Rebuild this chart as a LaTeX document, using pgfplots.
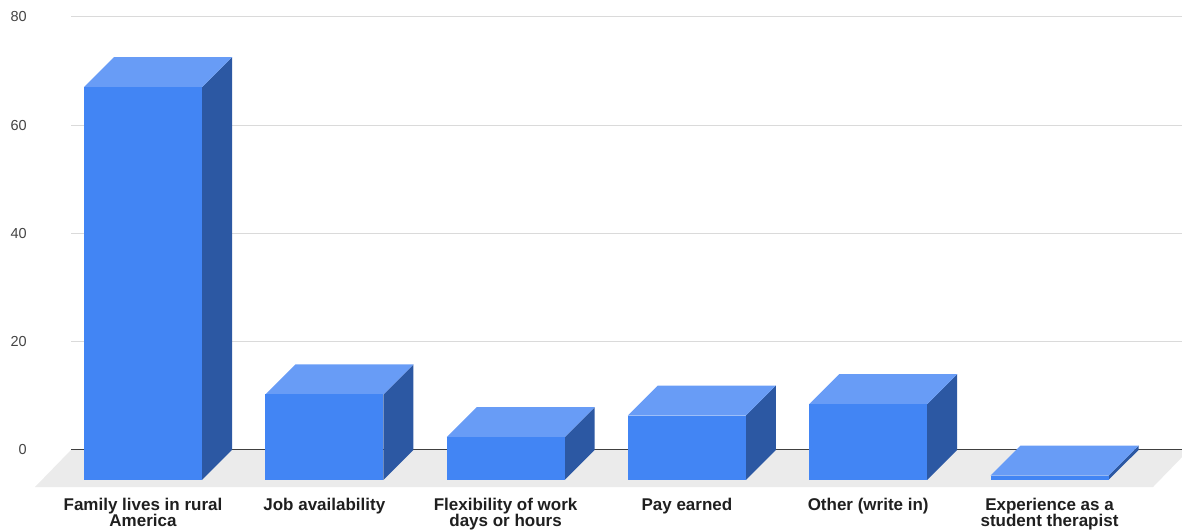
\documentclass[border=0pt]{standalone}
\usepackage{fontspec}
\setmainfont{Liberation Sans}
\usepackage{pgfplots}
\usepackage{pgfplotstable}
\pgfplotsset{compat=1.18}
\definecolor{front}{HTML}{4285F4}
\definecolor{topc}{HTML}{689CF6}
\definecolor{side}{HTML}{2C58A3}
\definecolor{floorc}{HTML}{EBEBEB}
\definecolor{gridc}{HTML}{DADADA}
\definecolor{ticklab}{HTML}{444444}
\pgfplotstableread{
x v
143 72.6
324.3 15.8
505.6 7.9
686.9 11.9
868.2 14.0
1049.5 0.8
}\bars
\begin{document}
\begin{tikzpicture}[x=1pt,y=1pt]
\path[use as bounding box] (0,0) rectangle (1182,531);
\begin{axis}[
  at={(71pt,44pt)}, anchor=south west,
  scale only axis, width=1111pt, height=470pt,
  xmin=71, xmax=1182, ymin=-6.84, ymax=80,
  clip=false,
  axis line style={draw=none},
  major tick length=0pt,
  ytick={0,20,40,60,80},
  ymajorgrids,
  grid style={gridc, line width=1pt},
  yticklabel style={font=\fontsize{14.5}{14.5}\selectfont, text=ticklab, anchor=east, inner sep=0pt, xshift=-44pt},
  /pgf/number format/assume math mode=true,
  xtick={143,324.3,505.6,686.9,868.2,1049.5},
  xticklabels={{Family lives in rural\\America},{Job availability},{Flexibility of work\\days or hours},{Pay earned},{Other (write in)},{Experience as a\\student therapist}},
  xticklabel style={font=\fontsize{17}{16.7}\selectfont\bfseries, align=center, anchor=north, inner sep=0pt, yshift=-10.6pt, text=black!88},
]
\addplot[fill=floorc, draw=none] coordinates {(35,-6.84) (1153,-6.84) (1189,0) (71,0)} --cycle;
\addplot[draw=black!75, line width=1pt] coordinates {(71,0) (1182,0)};
\pgfplotsinvokeforeach{0,...,5}{
  \pgfplotstablegetelem{#1}{x}\of\bars \let\cx\pgfplotsretval
  \pgfplotstablegetelem{#1}{v}\of\bars \let\cv\pgfplotsretval
  \pgfmathsetmacro\xL{\cx-59}
  \pgfmathsetmacro\xR{\cx+59}
  \pgfmathsetmacro\xLb{\cx-29}
  \pgfmathsetmacro\xRb{\cx+89}
  \pgfmathsetmacro\yt{\cv-5.54}
  \edef\temp{%
   \noexpand\addplot[fill=side,draw=none] coordinates {(\xR,-5.54) (\xRb,0) (\xRb,\cv) (\xR,\yt)} --cycle;
   \noexpand\addplot[fill=topc,draw=none] coordinates {(\xL,\yt) (\xR,\yt) (\xRb,\cv) (\xLb,\cv)} --cycle;
   \noexpand\addplot[fill=front,draw=none] coordinates {(\xL,-5.54) (\xR,-5.54) (\xR,\yt) (\xL,\yt)} --cycle;
  }\temp
}
\end{axis}
\end{tikzpicture}
\end{document}
